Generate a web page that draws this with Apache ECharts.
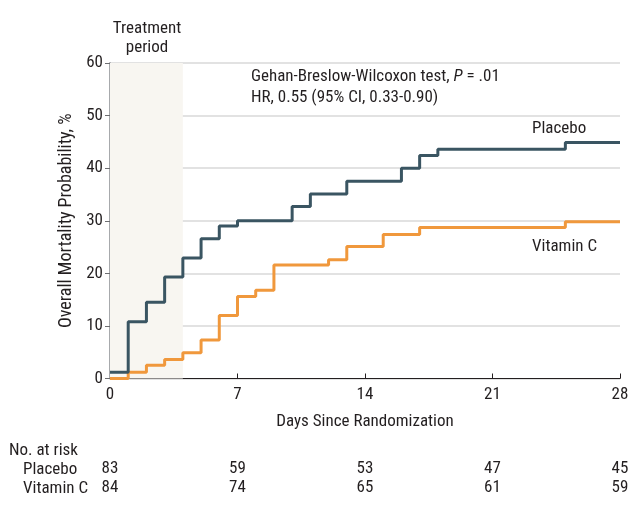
<!DOCTYPE html>
<html>
<head>
    <meta charset="utf-8">
    <title>Overall Mortality</title>
    <script src="https://cdn.jsdelivr.net/npm/echarts@6/dist/echarts.min.js"></script>
    <style>
        html, body { margin: 0; padding: 0; background: #fff; }
        #chart1 { width: 640px; height: 517px; }
    </style>
</head>
<body>
<div id="chart1"></div>
<script type="text/javascript">
    // step points (day, % dead)
    var placeboDays = [0, 1, 2, 3, 4, 5, 6, 7, 10, 11, 13, 16, 17, 18, 25, 28];
    var placeboPct  = [1.2, 10.8, 14.5, 19.3, 22.9, 26.6, 29.0, 30.0, 32.7, 35.1, 37.5, 40.0, 42.4, 43.6, 44.9, 44.9];
    var vitcDays = [0, 1, 2, 3, 4, 5, 6, 7, 8, 9, 12, 13, 15, 17, 25, 28];
    var vitcPct  = [0, 1.2, 2.5, 3.6, 4.9, 7.3, 12.0, 15.6, 16.8, 21.6, 22.6, 25.1, 27.4, 28.7, 29.8, 29.8];

    var riskDays = [0, 7, 14, 21, 28];
    var placeboRisk = [83, 59, 53, 47, 45];
    var vitcRisk = [84, 74, 65, 61, 59];

    var treatEnd = 4;

    var fontName = '"Liberation Sans Narrow", "Roboto Condensed", Roboto, sans-serif';
    var textColor = '#231f20';
    var fs = 17;

    function pairs(xs, ys) {
        var out = [];
        for (var i = 0; i < xs.length; i++) out.push([xs[i], ys[i]]);
        return out;
    }

    function riskAxis(counts, offset) {
        return {
            type: 'value', min: 0, max: 28, interval: 7,
            position: 'bottom', offset: offset,
            axisLine: {show: false}, axisTick: {show: false}, splitLine: {show: false},
            axisLabel: {
                fontFamily: fontName, fontSize: fs, color: textColor, margin: 8,
                formatter: function (v) {
                    var i = riskDays.indexOf(v);
                    return i < 0 ? '' : String(counts[i]);
                }
            }
        };
    }

    function label(x, y, txt) {
        return {type: 'text', x: x, y: y, style: {text: txt, fontFamily: fontName, fontSize: fs, fill: textColor}};
    }

    var myChart1 = echarts.init(document.getElementById('chart1'));
    myChart1.setOption({
        animation: false,
        textStyle: {fontFamily: fontName},
        grid: {left: 110, right: 20, top: 63, bottom: 138.5},
        xAxis: [{
            type: 'value', min: 0, max: 28, interval: 7,
            name: 'Days Since Randomization', nameLocation: 'middle', nameGap: 35,
            nameTextStyle: {fontFamily: fontName, fontSize: fs, color: textColor},
            axisLine: {lineStyle: {color: '#231f20', width: 1}},
            axisTick: {inside: true, length: 5, lineStyle: {color: '#231f20'}},
            axisLabel: {fontFamily: fontName, fontSize: fs, color: textColor, margin: 8},
            splitLine: {show: false}
        }, riskAxis(placeboRisk, 74), riskAxis(vitcRisk, 93)],
        yAxis: {
            type: 'value', min: 0, max: 60, interval: 10,
            name: 'Overall Mortality Probability, %', nameLocation: 'middle', nameGap: 34,
            nameTextStyle: {fontFamily: fontName, fontSize: 18, color: textColor},
            axisLine: {show: true, lineStyle: {color: '#a7a9ac', width: 2}},
            axisTick: {show: true, length: 5, lineStyle: {color: '#6d6e71'}},
            axisLabel: {fontFamily: fontName, fontSize: fs, color: textColor, margin: 7},
            splitLine: {lineStyle: {color: '#d9d9d9', width: 1.5}}
        },
        series: [{
            name: 'Placebo', type: 'line', step: 'end',
            data: pairs(placeboDays, placeboPct),
            showSymbol: false, z: 3,
            lineStyle: {color: '#3a5562', width: 3},
            markArea: {
                silent: true,
                itemStyle: {color: '#f8f6f1'},
                data: [[{xAxis: 0}, {xAxis: treatEnd}]]
            }
        }, {
            name: 'Vitamin C', type: 'line', step: 'end',
            data: pairs(vitcDays, vitcPct),
            showSymbol: false, z: 2,
            lineStyle: {color: '#f0983c', width: 3}
        }],
        graphic: [
            {type: 'text', x: 147, y: 19, style: {text: 'Treatment\nperiod', fontFamily: fontName, fontSize: fs, fill: textColor, align: 'center', lineHeight: 19}},
            {type: 'text', x: 251, y: 66, style: {
                text: 'Gehan-Breslow-Wilcoxon test, {i|P} = .01\nHR, 0.55 (95% CI, 0.33-0.90)',
                fontFamily: fontName, fontSize: fs, fill: textColor, lineHeight: 21,
                rich: {i: {fontStyle: 'italic', fontFamily: fontName, fontSize: fs, fill: textColor}}
            }},
            label(532, 120, 'Placebo'),
            label(532, 238, 'Vitamin C'),
            label(9, 442, 'No. at risk'),
            label(23, 461, 'Placebo'),
            label(23, 480, 'Vitamin C')
        ]
    });
</script>
</body>
</html>
